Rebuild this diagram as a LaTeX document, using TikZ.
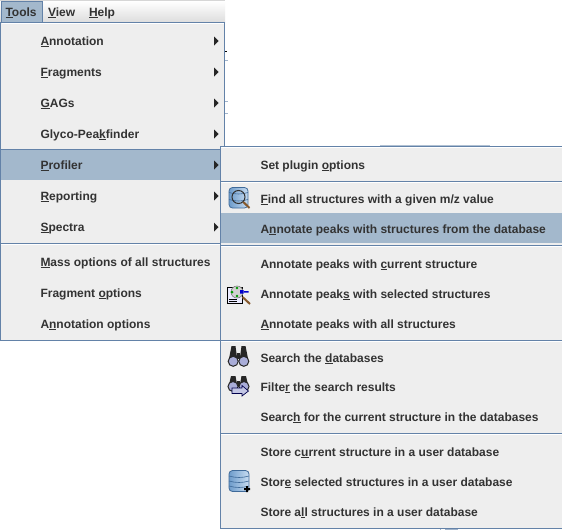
\documentclass[tikz,border=0pt]{standalone}
\usepackage{fontspec}
\setmainfont{Liberation Sans}
\usetikzlibrary{arrows.meta}
\definecolor{menubg}{HTML}{EEEEEE}
\definecolor{hl}{HTML}{A3B8CC}
\definecolor{edge}{HTML}{6382A8}
\definecolor{txt}{HTML}{333333}
\definecolor{dbhi}{HTML}{C8DDF2}
\definecolor{dblo}{HTML}{6E9CCB}
\definecolor{dbline}{HTML}{3F6A99}
\definecolor{lens}{HTML}{A9ADD8}
\newcommand\mn[1]{\setbox0\hbox{#1}\rlap{\raisebox{-1.6pt}{\rule{\wd0}{0.9pt}}}#1}
\tikzset{
  x=1pt,y=-1pt,
  item/.style={anchor=base west,inner sep=0pt,outer sep=0pt,text=txt,font=\fontsize{12}{14}\selectfont\bfseries},
  sep/.style={draw=edge,line width=1pt},
  sepw/.style={draw=white,line width=1pt},
  tri/.style={fill=black!85,draw=none},
  pane/.style={fill=menubg,draw=edge,line width=1pt},
}
\newcommand\entry[4]{\node[item] (#1) at (#2-0.5,#3+4.5) {#4};}
\newcommand\arr[1]{\fill[tri] (214,#1-4.5) -- (218.5,#1) -- (214,#1+4.5) -- cycle;}
\begin{document}
\begin{tikzpicture}
\useasboundingbox (0,0) rectangle (562,530);
\fill[white] (0,0) rectangle (562,530);
% background scraps
\draw[edge!50,line width=.8pt] (380,145.2) -- (490,145.2);
\draw[edge!60,line width=.8pt] (225,60) -- (228,60) (225,101) -- (228,101) (225,113) -- (228,113);
\draw[black,line width=.8pt] (225,51.5) -- (227,51.5);
\draw[edge!60,line width=.8pt] (440,528) -- (440,530) (445,529) -- (458,529);
% menu bar
\shade[top color=white,bottom color=menubg!85!gray] (0,1) rectangle (225,22);
\fill[menubg!90!black] (0,0) rectangle (225,1);
\fill[hl] (2,1.5) rectangle (42,22);
\draw[edge,line width=.7pt] (1.5,22) -- (1.5,1.2) -- (42,1.2) -- (42,22);
\node[item] (mTools) at (5.5,16.5) {\mn{T}ools};
\node[item] (mView) at (48,16.5) {\mn{V}iew};
\node[item] (mHelp) at (89,16.5) {\mn{H}elp};
% main menu
\path[pane] (0.5,22.5) rectangle (224.5,340.5);
\draw[white,line width=1pt] (1.5,23.5) -- (223.5,23.5);
\fill[hl] (1,149) rectangle (224,180);
\draw[edge,line width=1pt] (1,149) -- (224,149);
\draw[sep] (1,243.5) -- (224,243.5);
\draw[sepw] (1,244.5) -- (224,244.5);
\entry{a1}{41}{41}{\mn{A}nnotation}
\entry{a2}{41}{72}{\mn{F}ragments}
\entry{a3}{41}{103}{\mn{G}AGs}
\entry{a4}{41}{134}{Glyco-Pea\mn{k}finder}
\entry{a5}{41}{165}{\mn{P}rofiler}
\entry{a6}{41}{196}{\mn{R}eporting}
\entry{a7}{41}{227}{\mn{S}pectra}
\entry{a8}{41}{262}{\mn{M}ass options of all structures}
\entry{a9}{41}{293}{Fragment \mn{o}ptions}
\entry{a10}{41}{324}{A\mn{n}notation options}
\arr{41}\arr{72}\arr{103}\arr{134}\arr{165}\arr{196}\arr{227}
% submenu
\path[pane] (220.5,146.5) rectangle (563,528.5);
\draw[white,line width=1pt] (221,147.5) -- (563,147.5);
\draw[sep] (221,181.5) -- (563,181.5);
\draw[sepw] (221,182.5) -- (563,182.5);
\fill[hl] (221,213) rectangle (563,243);
\draw[sep] (221,245.5) -- (563,245.5);
\draw[sepw] (221,246.5) -- (563,246.5);
\draw[sep] (221,340.5) -- (563,340.5);
\draw[sepw] (221,341.5) -- (563,341.5);
\draw[sep] (221,433.5) -- (563,433.5);
\draw[sepw] (221,434.5) -- (563,434.5);
\entry{b1}{261}{165}{Set plugin \mn{o}ptions}
\entry{b2}{261}{199}{\mn{F}ind all structures with a given m/z value}
\entry{b3}{261}{229}{A\mn{n}notate peaks with structures from the database}
\entry{b4}{261}{264}{Annotate peaks with \mn{c}urrent structure}
\entry{b5}{261}{294}{Annotate peak\mn{s} with selected structures}
\entry{b6}{261}{324}{\mn{A}nnotate peaks with all structures}
\entry{b7}{261}{358}{Search the \mn{d}atabases}
\entry{b8}{261}{387}{Filte\mn{r} the search results}
\entry{b9}{261}{417}{Searc\mn{h} for the current structure in the databases}
\entry{b10}{261}{452}{Store c\mn{u}rrent structure in a user database}
\entry{b11}{261}{482}{Stor\mn{e} selected structures in a user database}
\entry{b12}{261}{512}{Store a\mn{l}l structures in a user database}
% icon: find (database + lens)
\begin{scope}[shift={(238.5,197.5)}]
 \shade[left color=dblo,right color=dbhi,draw=dbline,line width=.8pt,rounded corners=3.5pt] (-9.5,-10) rectangle (9.5,10.5);
 \draw[dbline,line width=.6pt] (-9.5,-5) .. controls (-3,-3) and (3,-3) .. (9.5,-5);
 \draw[dbline,line width=.6pt] (-9.5,2) .. controls (-3,4) and (3,4) .. (9.5,2);
 \draw[black!80,line width=1pt] (0,-0.5) circle (6.5);
 \draw[brown!70!black,line width=2pt] (4.8,4.5) -- (11,10.5);
\end{scope}
% icon: annotate selected
\begin{scope}[shift={(239,295)}]
 \filldraw[fill=blue!8,draw=black,line width=1pt] (-11.5,-8) rectangle (3.5,8.5);
 \draw[black,line width=1pt] (-10,4) -- (-2,4) (-10,6.5) -- (-2,6.5);
 \fill[gray!35] (-2,-3) circle (6);
 \draw[gray,line width=.6pt] (-2,-3) circle (6);
 \fill[green!60!black] (-7,-3) circle (1.5) (-2,-7) circle (1.4) (-2,1) circle (1.4);
 \fill[blue!80!black] (1,-5) rectangle (4.5,-1.5) (5,-4) rectangle (9.5,-2.5);
 \draw[brown!70!black,line width=2pt] (3.5,2) -- (11,9);
\end{scope}
% icons: binoculars
\begin{scope}[shift={(238.5,356)}]
 \fill[black!85] (-10,5) -- (-7,-10) -- (-3,-10) -- (-1,5) -- cycle;
 \fill[black!85] (10,5) -- (7,-10) -- (3,-10) -- (1,5) -- cycle;
 \fill[black!85] (-1.5,-3) rectangle (1.5,3);
 \filldraw[fill=lens,draw=black!85,line width=1pt] (-5.3,5.3) circle (5);
 \filldraw[fill=lens,draw=black!85,line width=1pt] (5.3,5.3) circle (5);
\end{scope}
\begin{scope}[shift={(238.5,384)}]
 \fill[black!85] (-10,3) -- (-7.5,-8) -- (-3,-8) -- (-1,3) -- cycle;
 \fill[black!85] (10,3) -- (7.5,-8) -- (3,-8) -- (1,3) -- cycle;
 \fill[black!85] (-1.5,-3) rectangle (1.5,3);
 \filldraw[fill=lens,draw=black!85,line width=1pt] (-5.5,2.5) circle (5);
 \filldraw[fill=lens,draw=black!85,line width=1pt] (5.5,2.5) circle (5);
 \filldraw[fill=lens!70!white,draw=blue!30!black,line width=.7pt] (-6.5,4) -- (3.5,4) -- (3.5,1.5) -- (10,7) -- (3.5,12) -- (3.5,9.5) -- (-6.5,9.5) -- cycle;
\end{scope}
% icon: store database
\begin{scope}[shift={(239,481)}]
 \shade[left color=dblo,right color=dbhi,draw=dbline,line width=.8pt,rounded corners=3.5pt] (-10,-10.5) rectangle (10,10.5);
 \draw[dbline,line width=.6pt] (-10,-5) .. controls (-3,-3) and (3,-3) .. (10,-5);
 \draw[dbline,line width=.6pt] (-10,0) .. controls (-3,2) and (3,2) .. (10,0);
 \draw[dbline,line width=.6pt] (-10,5) .. controls (-3,7) and (3,7) .. (10,5);
 \fill[black] (5,7) rectangle (11,9) (7,5) rectangle (9,11);
\end{scope}
\end{tikzpicture}
\end{document}
